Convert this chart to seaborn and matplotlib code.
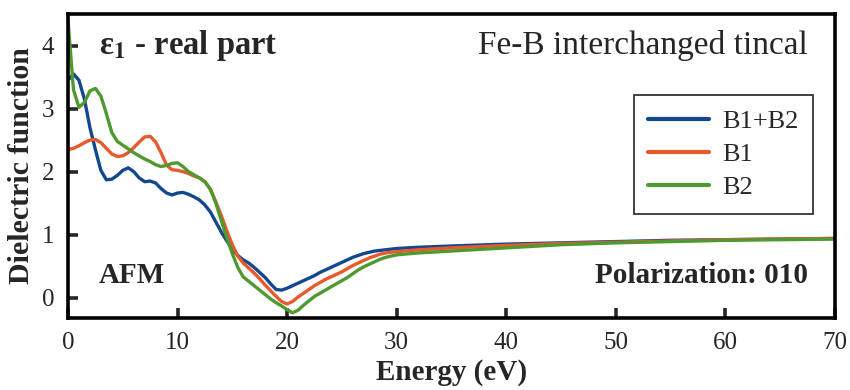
import matplotlib
matplotlib.use('Agg')
from matplotlib import pyplot as plt
import seaborn as sns
import pandas as pd

# photon energy (eV)
energy = [0, 0.5, 1, 1.5, 2, 2.5, 3, 3.5, 4, 4.5, 5, 5.5, 6, 6.5, 7, 7.5, 8, 8.5, 9, 9.5,
          10, 10.5, 11, 11.5, 12, 12.5, 13, 13.5, 14, 14.5, 15, 15.5, 16, 16.5, 17, 17.5,
          18, 18.5, 19, 19.5, 20, 20.5, 21, 21.5, 22, 22.5, 23, 23.5, 24, 24.5, 25, 25.5,
          26, 26.5, 27, 27.5, 28, 28.5, 29, 29.5, 30, 32, 35, 40, 45, 50, 55, 60, 65, 70]

b1b2 = [3.45, 3.55, 3.45, 3.15, 2.7, 2.35, 2.02, 1.87, 1.88, 1.94, 2.02, 2.06, 2.0, 1.9, 1.84, 1.85,
        1.82, 1.73, 1.66, 1.63, 1.66, 1.67, 1.64, 1.6, 1.55, 1.47, 1.36, 1.2, 1.04, 0.9, 0.77,
        0.67, 0.6, 0.55, 0.48, 0.4, 0.32, 0.22, 0.13, 0.12, 0.15, 0.19, 0.23, 0.27, 0.31, 0.35,
        0.4, 0.44, 0.48, 0.52, 0.56, 0.6, 0.64, 0.67, 0.7, 0.72, 0.74, 0.75, 0.76, 0.77, 0.78,
        0.8, 0.82, 0.85, 0.87, 0.89, 0.91, 0.92, 0.93, 0.94]

b1 = [2.35, 2.37, 2.41, 2.46, 2.5, 2.51, 2.46, 2.37, 2.28, 2.24, 2.25, 2.3, 2.38, 2.47, 2.55, 2.56,
      2.47, 2.3, 2.1, 2.03, 2.02, 2.0, 1.97, 1.93, 1.9, 1.84, 1.72, 1.52, 1.3, 1.06, 0.84,
      0.66, 0.55, 0.47, 0.39, 0.3, 0.2, 0.11, 0.02, -0.06, -0.1, -0.06, 0.01, 0.07, 0.13, 0.19,
      0.24, 0.29, 0.33, 0.37, 0.41, 0.46, 0.51, 0.55, 0.59, 0.63, 0.66, 0.69, 0.71, 0.72, 0.73,
      0.76, 0.79, 0.83, 0.86, 0.88, 0.9, 0.92, 0.93, 0.94]

b2 = [4.4, 3.3, 3.02, 3.1, 3.28, 3.32, 3.2, 2.92, 2.62, 2.48, 2.42, 2.36, 2.3, 2.25, 2.2, 2.16,
      2.11, 2.08, 2.1, 2.13, 2.14, 2.08, 2.0, 1.95, 1.9, 1.84, 1.72, 1.5, 1.22, 0.95, 0.7,
      0.48, 0.33, 0.26, 0.19, 0.12, 0.05, -0.02, -0.08, -0.13, -0.19, -0.24, -0.2, -0.12, -0.05,
      0.02, 0.07, 0.12, 0.17, 0.22, 0.27, 0.32, 0.38, 0.44, 0.49, 0.53, 0.57, 0.61, 0.64, 0.66,
      0.68, 0.71, 0.74, 0.79, 0.84, 0.87, 0.89, 0.91, 0.92, 0.93]

series = ['B1+B2', 'B1', 'B2']
colors = ['#13488f', '#e8592b', '#4f9a30']

df = pd.concat([pd.DataFrame({'energy': energy, 'eps': v, 'site': s})
                for s, v in zip(series, [b1b2, b1, b2])], ignore_index=True)

sns.set_style('ticks')
plt.rcParams['font.family'] = ['Liberation Serif', 'DejaVu Serif']
plt.rcParams['mathtext.fontset'] = 'stix'

fig, axe = plt.subplots(figsize=(8.5, 3.9), dpi=100)
fig.subplots_adjust(left=0.08, right=0.982, bottom=0.185, top=0.964)

sns.lineplot(data=df, x='energy', y='eps', hue='site', hue_order=series,
             palette=colors, linewidth=2.4, ax=axe, sort=False)

axe.set_xlim(0, 70)
axe.set_ylim(-0.32, 4.5)
axe.set_xticks(range(0, 71, 10))
axe.set_yticks(range(0, 5))
plt.setp(axe.spines.values(), linewidth=2.6, color='black')
axe.tick_params(direction='in', width=2.6, length=7, labelsize=18, pad=10)

axe.set_xlabel('Energy (eV)', size=21, fontweight='bold', labelpad=4)
axe.set_ylabel('Dielectric function', size=21.5, fontweight='bold', labelpad=5)

axe.text(0.04, 0.895, r'ε$_{\mathbf{1}}$ - real part', transform=axe.transAxes,
         size=23.5, fontweight='bold', va='center', ha='left')
axe.text(0.965, 0.895, 'Fe-B interchanged tincal', transform=axe.transAxes,
         size=24, va='center', ha='right')
axe.text(0.04, 0.14, 'AFM', transform=axe.transAxes,
         size=21, fontweight='bold', va='center', ha='left')
axe.text(0.965, 0.14, 'Polarization: 010', transform=axe.transAxes,
         size=21, fontweight='bold', va='center', ha='right')

leg = axe.legend(loc='upper right', bbox_to_anchor=(0.972, 0.733), fontsize=19,
                 frameon=True, fancybox=False, handlelength=2.3, borderpad=0.55,
                 labelspacing=0.36, handletextpad=0.5, borderaxespad=0)
leg.get_frame().set_edgecolor('#333333')
leg.get_frame().set_linewidth(1.3)
leg.get_frame().set_alpha(1)
for line in leg.get_lines():
    line.set_linewidth(3)

plt.savefig('out.png', dpi=100)
